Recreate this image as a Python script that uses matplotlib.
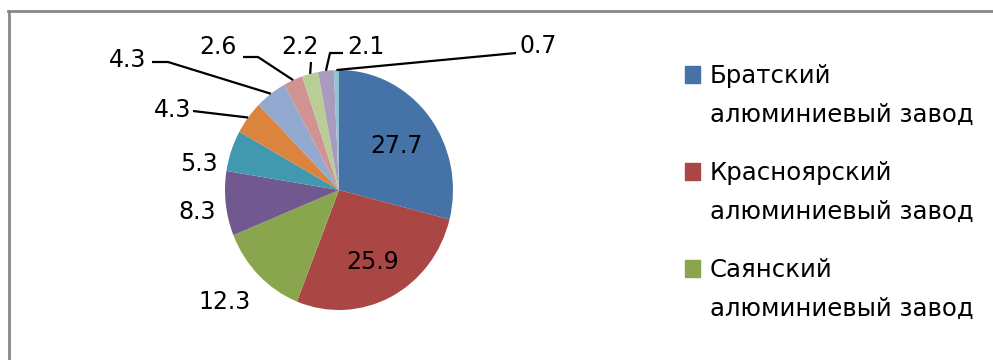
import matplotlib
matplotlib.use("Agg")
import matplotlib.pyplot as plt
import numpy as np
from matplotlib.patches import Rectangle
from matplotlib.lines import Line2D

# доли производства алюминия, %
shares = [27.7, 25.9, 12.3, 8.3, 5.3, 4.3, 4.3, 2.6, 2.2, 2.1, 0.7]
legend_labels = [
    "Братский\nалюминиевый завод",
    "Красноярский\nалюминиевый завод",
    "Саянский\nалюминиевый завод",
]
colors = ["#4572A7", "#AA4643", "#89A54E", "#71588F", "#4198AF", "#DB843D",
          "#93A9CF", "#D19392", "#B9CD96", "#A99BBD", "#92C3D4"]

W, H = 993, 360
CX, CY = 339, 190          # центр круга в пикселях (y сверху)
RX, RY = 114, 120          # радиусы (картинка слегка растянута)
FS = 17

# положение подписей (пиксели, y сверху); None = внутри сектора
label_pos = [None, None, (225, 302), (197, 212), (199, 164), (173, 110),
             (128, 60), (218, 47), (300, 47), (366, 47), (538, 46)]
# ломаные выноски: точки от подписи к сектору
leaders = {
    5: [(193, 111)],
    6: [(152, 62), (168, 62)],
    7: [(243, 57), (258, 57)],
    8: [(311, 62)],
    9: [(343, 53), (330, 53)],
    10: [(516, 53)],
}


def to_data(px, py):
    return (px - CX) / RX, (CY - py) / RY


fig = plt.figure(figsize=(W / 100, H / 100), dpi=100)
ax = fig.add_axes([(CX - 3 * RX) / W, (H - CY - 1.5 * RY) / H, 6 * RX / W, 3 * RY / H])
wedges, _ = ax.pie(shares, colors=colors, startangle=90, counterclock=False,
                   wedgeprops=dict(linewidth=0))
ax.set_aspect("auto")
ax.set_xlim(-3, 3)
ax.set_ylim(-1.5, 1.5)
ax.axis("off")

for i, (w, v) in enumerate(zip(wedges, shares)):
    mid = np.deg2rad((w.theta1 + w.theta2) / 2)
    txt = f"{v:.1f}"
    if label_pos[i] is None:
        ax.text(0.64 * np.cos(mid), 0.64 * np.sin(mid) - 0.03, txt, fontsize=FS,
                ha="center", va="center", color="black")
        continue
    x, y = to_data(*label_pos[i])
    ax.text(x, y, txt, fontsize=FS, ha="center", va="center", color="black")
    if i in leaders:
        pts = [to_data(*p) for p in leaders[i]] + [(np.cos(mid), np.sin(mid))]
        xs, ys = zip(*pts)
        ax.plot(xs, ys, color="black", lw=1.6, clip_on=False, solid_capstyle="butt")

# легенда
for k, lab in enumerate(legend_labels):
    base = 83 + 97 * k
    fig.patches.append(Rectangle((685 / W, (H - base) / H), 15 / W, 17 / H,
                                 transform=fig.transFigure, color=colors[k]))
    first, second = lab.split("\n")
    fig.text(710 / W, (H - base) / H, first, fontsize=17.6, va="baseline", ha="left")
    fig.text(710 / W, (H - base - 39) / H, second, fontsize=17.6, va="baseline", ha="left")

# рамка диаграммы (обрезана справа и снизу)
fig.add_artist(Line2D([9 / W, 9 / W], [0, (H - 11) / H], transform=fig.transFigure,
                      color="#878787", lw=2))
fig.add_artist(Line2D([8 / W, 1], [(H - 11) / H, (H - 11) / H], transform=fig.transFigure,
                      color="#878787", lw=2))

fig.savefig("out.png", dpi=100)
